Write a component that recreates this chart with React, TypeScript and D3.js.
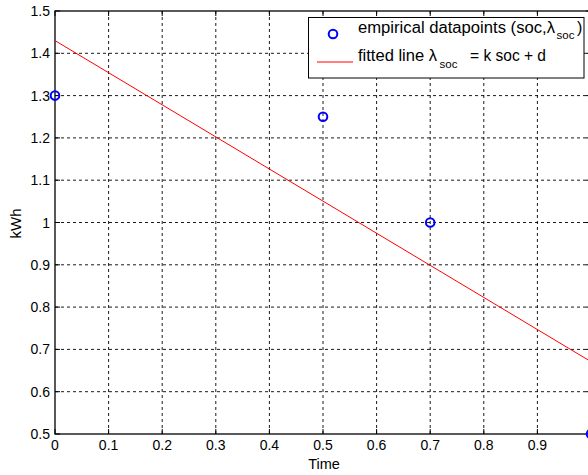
import React from "react";
import * as d3 from "d3";

const pointsX = [0, 0.5, 0.7, 1.0];
const pointsY = [1.3, 1.25, 1.0, 0.5];
const lineX = [0, 1];
const lineY = [1.43, 0.671];
const xTicks = [0, 0.1, 0.2, 0.3, 0.4, 0.5, 0.6, 0.7, 0.8, 0.9, 1];
const xTickLabels = ["0", "0.1", "0.2", "0.3", "0.4", "0.5", "0.6", "0.7", "0.8", "0.9", "1"];
const yTicks = [0.5, 0.6, 0.7, 0.8, 0.9, 1, 1.1, 1.2, 1.3, 1.4, 1.5];
const yTickLabels = ["0.5", "0.6", "0.7", "0.8", "0.9", "1", "1.1", "1.2", "1.3", "1.4", "1.5"];

const W = 588;
const H = 475;
const left = 55;
const right = 591;
const top = 11;
const bottom = 434;
const FONT = "'Liberation Sans', Arial, Helvetica, sans-serif";

export default function App() {
  const x = d3.scaleLinear().domain([0, 1]).range([left, right]);
  const y = d3.scaleLinear().domain([0.5, 1.5]).range([bottom, top]);
  const line = d3
    .line<number>()
    .x((_, i) => x(lineX[i]))
    .y((d) => y(d));
  const tickLen = 5;

  return (
    <svg
      width={W}
      height={H}
      style={{ position: "absolute", left: 0, top: 0, background: "#fff" }}
      fontFamily={FONT}
    >
      <rect x={0} y={0} width={W} height={H} fill="#fff" />
      {/* grid */}
      {xTicks.slice(1, -1).map((t) => (
        <line key={"gx" + t} x1={x(t)} x2={x(t)} y1={top} y2={bottom} stroke="#000" strokeWidth={0.9} strokeDasharray="3,3" />
      ))}
      {yTicks.slice(1, -1).map((t) => (
        <line key={"gy" + t} x1={left} x2={right} y1={y(t)} y2={y(t)} stroke="#000" strokeWidth={0.9} strokeDasharray="3,3" />
      ))}
      {/* ticks */}
      {xTicks.map((t) => (
        <g key={"tx" + t}>
          <line x1={x(t)} x2={x(t)} y1={bottom} y2={bottom - tickLen} stroke="#000" strokeWidth={1} />
          <line x1={x(t)} x2={x(t)} y1={top} y2={top + tickLen} stroke="#000" strokeWidth={1} />
        </g>
      ))}
      {yTicks.map((t) => (
        <g key={"ty" + t}>
          <line x1={left} x2={left + tickLen} y1={y(t)} y2={y(t)} stroke="#000" strokeWidth={1} />
          <line x1={right} x2={right - tickLen} y1={y(t)} y2={y(t)} stroke="#000" strokeWidth={1} />
        </g>
      ))}
      {/* axes box */}
      <rect x={left} y={top} width={right - left} height={bottom - top} fill="none" stroke="#000" strokeWidth={1.3} />
      {/* tick labels (those falling outside the visible canvas are not drawn, as in the reference) */}
      {xTicks.map((t, i) =>
        x(t) + 6 <= W ? (
          <text key={"lx" + t} x={x(t)} y={bottom + 16} fontSize={14} textAnchor="middle" fill="#000">
            {xTickLabels[i]}
          </text>
        ) : null
      )}
      {yTicks.map((t, i) => (
        <text key={"ly" + t} x={left - 5} y={y(t) + 5} fontSize={14} textAnchor="end" fill="#000">
          {yTickLabels[i]}
        </text>
      ))}
      {/* axis labels */}
      <text x={324} y={469} fontSize={14.5} textAnchor="middle" fill="#000">Time</text>
      <text transform="translate(21,223.5) rotate(-90)" fontSize={15} textAnchor="middle" fill="#000">kWh</text>
      {/* fitted line */}
      <path d={line(lineY) || ""} fill="none" stroke="#ff0000" strokeWidth={1} />
      {/* points */}
      {pointsX.map((px, i) => (
        <circle key={"p" + i} cx={x(px)} cy={y(pointsY[i])} r={4.3} fill="none" stroke="#0000ff" strokeWidth={2} />
      ))}
      {/* legend */}
      <rect x={308.5} y={17.5} width={275.5} height={60.5} fill="#fff" stroke="#000" strokeWidth={1} />
      <circle cx={333} cy={34} r={4.3} fill="none" stroke="#0000ff" strokeWidth={2} />
      <line x1={317} x2={353} y1={62} y2={62} stroke="#ff0000" strokeWidth={1} />
      <text y={32.5} fontSize={16} fill="#000">
        <tspan x={358} textLength={197} lengthAdjust="spacingAndGlyphs">empirical datapoints (soc,λ</tspan>
        <tspan x={556.5} dy={6} fontSize={11.5}>soc</tspan>
        <tspan x={577} dy={-6}>)</tspan>
      </text>
      <text y={61} fontSize={16} fill="#000">
        <tspan x={358} textLength={79} lengthAdjust="spacingAndGlyphs">fitted line λ</tspan>
        <tspan x={439.5} dy={7} fontSize={11.5}>soc</tspan>
        <tspan x={470} dy={-7} textLength={76} lengthAdjust="spacingAndGlyphs">= k soc + d</tspan>
      </text>
    </svg>
  );
}
